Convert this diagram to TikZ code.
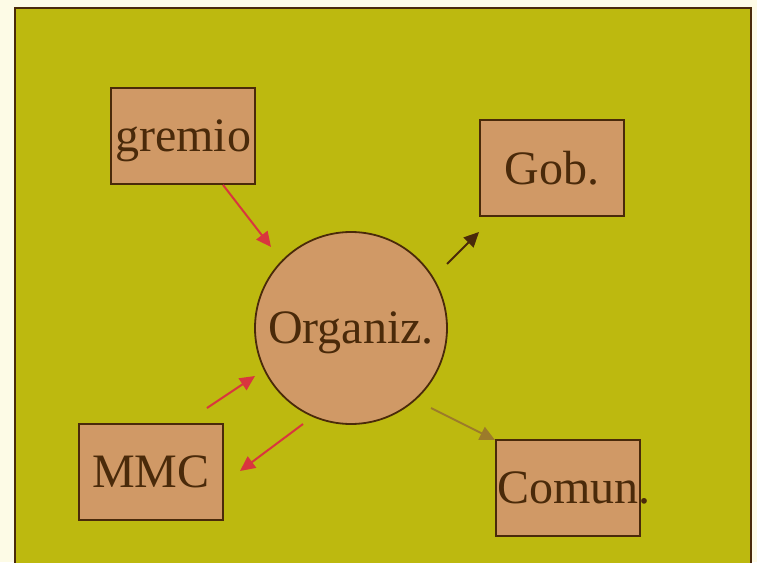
\documentclass[tikz,border=0pt]{standalone}
\usepackage{fontspec}
\setmainfont{Liberation Serif}
\usetikzlibrary{arrows.meta,calc}
\definecolor{cream}{HTML}{FDFBE6}
\definecolor{olive}{HTML}{BDB90F}
\definecolor{tan}{HTML}{D09966}
\definecolor{dbrown}{HTML}{4A2A0A}
\definecolor{arred}{HTML}{D9363E}
\definecolor{arolive}{HTML}{9C7B2A}
\tikzset{
  box/.style={draw=dbrown, line width=1.8pt, fill=tan, minimum width=144pt, minimum height=96pt, inner sep=0pt, text=dbrown, text depth=0pt, font=\fontsize{48}{50}\selectfont},
  orgc/.style={draw=dbrown, line width=1.8pt, fill=tan, circle, minimum size=192pt, inner sep=0pt, text=dbrown, text depth=0pt, font=\fontsize{48}{50}\selectfont},
  arr/.style={line width=2pt, -{Triangle[length=15pt,width=14pt]}},
}
\begin{document}
\begin{tikzpicture}[x=1pt,y=-1pt]
\useasboundingbox (0,0) rectangle (757,562);
\clip (0,0) rectangle (757,562);
\fill[cream] (0,0) rectangle (757,562);
\draw[draw=dbrown, line width=2pt, fill=olive] (15,8) rectangle (751,580);
\node[box] (gremio) at (183,136) {gremio};
\node[box] (gob) at (552,168) {Gob.};
\node[orgc] (org) at (351,328) {Organiz.};
\node[box] (mmc) at (151,472) {MMC};
\node[box] (comun) at (568,488) {\makebox[144pt][l]{\hspace*{1pt}Comun.}};
\draw[arr, arred] ($(gremio.south)+(40,0)$) -- ($(org.center)+(-80,-81)$);
\draw[arr, dbrown] ($(org.center)+(96,-64)$) -- ($(org.center)+(128,-96)$);
\draw[arr, arred] ($(org.center)+(-144,80)$) -- ($(org.center)+(-96,48)$);
\draw[arr, arred] ($(org.center)+(-48,96)$) -- ($(org.center)+(-111,143)$);
\draw[arr, arolive] ($(org.center)+(80,80)$) -- ($(org.center)+(144,112)$);
\end{tikzpicture}
\end{document}
